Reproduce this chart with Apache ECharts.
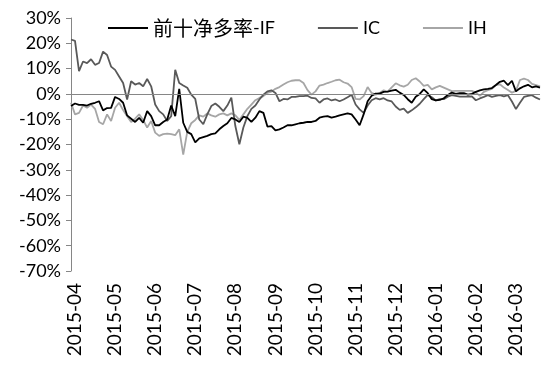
<!DOCTYPE html>
<html>
<head>
<meta charset="utf-8">
<script src="https://cdn.jsdelivr.net/npm/echarts@6/dist/echarts.min.js"></script>
<style>
html,body{margin:0;padding:0;background:#fff;}
#chart{width:543px;height:365px;}
</style>
</head>
<body>
<div id="chart"></div>
<script>
// Tick labels (one per month, every 10 sampled points)
const monthLabels = ['2015-04','2015-05','2015-06','2015-07','2015-08','2015-09','2015-10','2015-11','2015-12','2016-01','2016-02','2016-03'];
const pointsPerMonth = [10,10,10,10,10,10,10,10,10,10,10,8];
const categories = [];
monthLabels.forEach((m, k) => {
  for (let d = 0; d < pointsPerMonth[k]; d++) categories.push(m + '-' + String(d + 1).padStart(2, '0'));
});

const seriesNames = ['前十净多率-IF', 'IC', 'IH'];

// 前十净多率-IF (%)
const ifValues = [
  -4.8, -3.8, -4.3, -4.3, -4.6, -3.9, -3.5, -2.9, -6.5, -5.6,
  -5.5, -1.2, -2.0, -3.5, -8.5, -9.8, -11.1, -9.5, -11.4, -6.8,
  -8.8, -12.4, -12.4, -11.1, -10.1, -4.6, -8.8, 2.0, -11.4, -15.0,
  -15.9, -19.2, -17.6, -17.1, -16.6, -15.9, -15.6, -14.0, -12.7, -11.6,
  -9.5, -10.1, -11.1, -9.0, -9.5, -11.1, -9.4, -6.8, -7.5, -12.9,
  -12.7, -14.4, -14.0, -13.3, -12.4, -12.4, -12.0, -11.6, -11.4, -11.1,
  -11.1, -10.7, -9.4, -9.0, -8.8, -9.4, -9.0, -8.5, -8.1, -7.7,
  -8.1, -10.1, -12.4, -8.1, -2.9, -0.7, 0.1, 0.1, 0.8, 0.9,
  1.3, 1.6, 0.5, -0.4, -2.1, -3.5, -1.1, 0.0, 1.8, 0.3,
  -2.1, -2.6, -2.4, -1.7, -0.4, 0.5, 0.0, 0.3, 0.3, -0.3,
  0.0, 0.8, 1.4, 1.8, 2.0, 2.3, 3.5, 4.8, 5.2, 3.5,
  5.2, 1.0, 2.2, 3.0, 3.6, 2.6, 3.0, 2.5
];

// IC (%)
const icValues = [
  21.5, 21.0, 9.0, 12.8, 12.2, 13.7, 11.5, 12.2, 16.7, 15.4,
  10.8, 9.5, 6.9, 4.3, -2.2, 5.0, 3.7, 4.3, 3.0, 5.9,
  3.0, -4.2, -6.8, -8.1, -10.7, -8.8, 9.5, 4.3, 3.3, 2.4,
  -0.3, -2.0, -10.1, -12.0, -8.1, -4.8, -3.8, -5.1, -6.8, -4.6,
  -1.5, -12.7, -19.9, -13.3, -8.8, -5.9, -4.6, -2.2, -0.3, 1.0,
  1.4, 0.4, -2.9, -2.0, -2.2, -1.2, -1.2, -0.9, -0.9, -0.7,
  -1.6, -1.8, -3.5, -2.2, -1.8, -2.6, -2.2, -2.9, -2.2, -1.3,
  -0.3, -4.2, -6.1, -7.5, -4.6, -2.5, -1.7, -2.2, -1.7, -2.6,
  -3.0, -5.0, -6.3, -5.8, -7.5, -6.5, -5.3, -3.9, -2.1, -0.4,
  -1.3, -2.6, -2.1, -2.1, -1.1, -0.5, -0.8, -1.1, -1.1, -1.1,
  -1.0, -2.5, -1.8, -1.2, -0.5, -1.2, -0.8, -0.5, -1.0, -0.5,
  -3.0, -6.0, -3.5, -1.2, -0.8, -0.5, -1.5, -2.2
];

// IH (%)
const ihValues = [
  -3.5, -8.1, -7.5, -4.6, -5.5, -4.2, -5.9, -11.1, -12.0, -8.1,
  -10.7, -5.5, -3.5, -6.4, -8.8, -11.1, -9.8, -8.1, -10.3, -13.3,
  -10.7, -15.3, -16.6, -15.9, -15.7, -15.9, -16.3, -14.0, -24.0, -15.0,
  -11.6, -10.3, -8.5, -9.0, -7.7, -8.5, -9.0, -8.1, -7.7, -8.5,
  -7.7, -8.5, -10.3, -8.1, -5.9, -4.2, -2.5, -1.6, -0.9, 0.4,
  0.9, 2.0, 2.7, 3.7, 4.6, 5.2, 5.4, 5.4, 4.3, 1.5,
  -0.3, 1.0, 3.3, 3.7, 4.3, 4.8, 5.4, 5.6, 4.6, 4.1,
  2.7, -2.0, -2.2, -0.9, 2.7, 0.4, -0.3, 0.4, 1.4, 0.9,
  2.6, 4.2, 3.4, 2.9, 3.6, 5.5, 6.2, 4.9, 3.2, 3.6,
  1.8, 2.6, 3.2, 2.5, 1.8, 1.1, 1.2, 1.2, 1.2, 1.2,
  1.2, 0.5, -0.8, 0.8, 1.5, 2.0, 3.5, 3.8, 2.5, 1.5,
  0.5, 1.2, 5.5, 6.0, 5.5, 4.0, 3.5, 3.0
];

const FONT = 'Lato, "Noto Sans CJK SC", sans-serif';
const chart = echarts.init(document.getElementById('chart'), null, {renderer: 'canvas'});
chart.setOption({
  animation: false,
  backgroundColor: '#ffffff',
  legend: {
    left: 103,
    top: 13,
    icon: 'rect',
    itemWidth: 40,
    itemHeight: 2,
    itemGap: 43,
    textStyle: {
      fontFamily: FONT, fontSize: 18, color: '#000',
      rich: {
        c: {fontFamily: '"Noto Sans CJK SC"', fontSize: 20, color: '#000'},
        l: {fontFamily: FONT, fontSize: 18, color: '#000'}
      }
    },
    formatter: name => name.indexOf('-') > 0
      ? '{c|' + name.split('-')[0] + '}{l|-' + name.split('-')[1] + '}'
      : '{l|' + name + '}',
    data: seriesNames
  },
  grid: {left: 71, right: 3, top: 18, bottom: 94, containLabel: false},
  xAxis: {
    type: 'category',
    data: categories,
    boundaryGap: false,
    axisLine: {show: false, onZero: false},
    axisTick: {show: false},
    axisLabel: {
      interval: (idx) => idx % 10 === 1,
      rotate: 90,
      margin: 12,
      fontFamily: FONT,
      fontSize: 19,
      color: '#000',
      formatter: v => v.slice(0, 7)
    },
    splitLine: {show: false}
  },
  yAxis: {
    type: 'value',
    min: -70,
    max: 30,
    interval: 10,
    axisLine: {show: true, lineStyle: {color: '#868686', width: 1}},
    axisTick: {show: true, inside: false, length: 5, lineStyle: {color: '#868686'}},
    axisLabel: {
      margin: 10,
      fontFamily: FONT,
      fontSize: 18,
      color: '#000',
      formatter: '{value}%'
    },
    splitLine: {show: false}
  },
  series: [
    {
      name: seriesNames[2], type: 'line', data: ihValues, showSymbol: false,
      lineStyle: {color: '#a6a6a6', width: 1.8}, itemStyle: {color: '#a6a6a6'}, z: 2
    },
    {
      name: seriesNames[1], type: 'line', data: icValues, showSymbol: false,
      lineStyle: {color: '#595959', width: 1.8}, itemStyle: {color: '#595959'}, z: 3
    },
    {
      name: seriesNames[0], type: 'line', data: ifValues, showSymbol: false,
      lineStyle: {color: '#000000', width: 1.8}, itemStyle: {color: '#000000'}, z: 4,
      markLine: {
        silent: true, symbol: 'none', animation: false,
        label: {show: false},
        lineStyle: {color: '#868686', width: 1, type: 'solid'},
        data: [{yAxis: 0}]
      }
    }
  ]
});
</script>
</body>
</html>
